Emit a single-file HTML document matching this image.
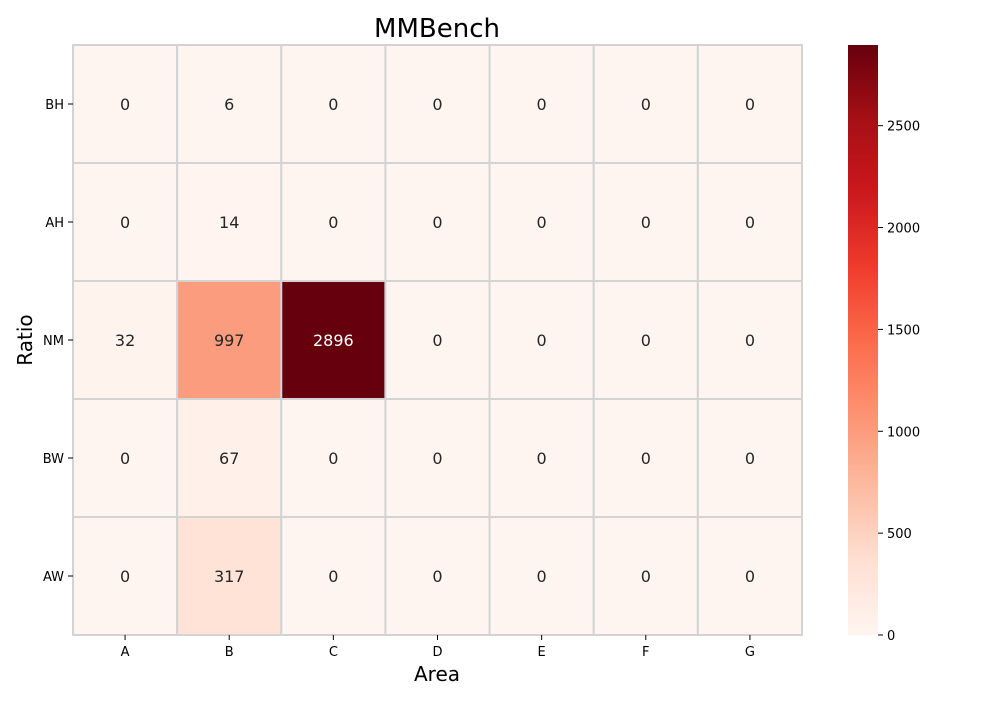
<!DOCTYPE html>
<html><head><meta charset="utf-8"><style>
body{margin:0;background:#fff;font-family:"DejaVu Sans","Liberation Sans",sans-serif}
svg text{font-family:"DejaVu Sans","Liberation Sans",sans-serif}
</style></head><body>
<svg id="chart" width="1000" height="700" viewBox="0 0 1000 700">
<defs><linearGradient id="cbg" x1="0" y1="1" x2="0" y2="0">
<stop offset="0" stop-color="#fff5f0"/><stop offset="0.125" stop-color="#fee0d2"/><stop offset="0.25" stop-color="#fcbba1"/><stop offset="0.375" stop-color="#fc9272"/><stop offset="0.5" stop-color="#fb6a4a"/><stop offset="0.625" stop-color="#ef3b2c"/><stop offset="0.75" stop-color="#cb181d"/><stop offset="0.875" stop-color="#a50f15"/><stop offset="1" stop-color="#67000d"/>
</linearGradient></defs>
<text x="437" y="37" text-anchor="middle" font-size="26" fill="#000">MMBench</text>
<text x="437" y="681" text-anchor="middle" font-size="20" fill="#000">Area</text>
<text x="32" y="340" text-anchor="middle" font-size="20" fill="#000" transform="rotate(-90 32 340)">Ratio</text>
<g id="cells"></g>
<rect x="848" y="45" width="30" height="590" fill="url(#cbg)"/>
<g id="cbticks"></g>
</svg>
<script>
const xCats=["A","B","C","D","E","F","G"];
const yCats=["BH","AH","NM","BW","AW"];
const row0=[0,6,0,0,0,0,0];
const row1=[0,14,0,0,0,0,0];
const row2=[32,997,2896,0,0,0,0];
const row3=[0,67,0,0,0,0,0];
const row4=[0,317,0,0,0,0,0];
const values=[row0,row1,row2,row3,row4];
const cbTicks=[0,500,1000,1500,2000,2500];
const vmax=2896;
const L=73,R=802,T=45,B=635;
const cw=(R-L)/xCats.length, ch=(B-T)/yCats.length;
const xPos=i=>L+i*cw, yPos=j=>T+j*ch;
const stops=[[255,245,240],[254,224,210],[252,187,161],[252,146,114],[251,106,74],[239,59,44],[203,24,29],[165,15,21],[103,0,13]];
function cmap(v){let t=Math.max(0,Math.min(1,v/vmax))*8;let i=Math.min(7,Math.floor(t)),f=t-i;
const a=stops[i],b=stops[i+1];const c=a.map((x,k)=>Math.round(x+(b[k]-x)*f));return c;}
const NS="http://www.w3.org/2000/svg";
const g=document.getElementById('cells');
function mk(tag,at,parent){const e=document.createElementNS(NS,tag);for(const k in at)e.setAttribute(k,at[k]);parent.appendChild(e);return e;}
values.forEach((row,j)=>row.forEach((v,i)=>{
 const c=cmap(v);
 const r=mk('rect',{x:xPos(i),y:yPos(j),width:cw,height:ch,fill:`rgb(${c})`,stroke:'#d3d3d3','stroke-width':2},g);
 
 
 const lum=(0.299*c[0]+0.587*c[1]+0.114*c[2])/255;
 const t=mk('text',{x:xPos(i)+cw/2,y:yPos(j)+ch/2+6,'text-anchor':'middle','font-size':16,fill:lum<0.45?'#fff':'#262626'},g);
 t.textContent=v;
 
 
}));
xCats.forEach((c,i)=>{
 const x=xPos(i)+cw/2;
 mk('line',{x1:x,x2:x,y1:B,y2:B+5,stroke:'#000'},g);
 const t=mk('text',{x:x,y:B+21,'text-anchor':'middle','font-size':13,fill:'#000'},g);
 t.textContent=c;
 
 
});
yCats.forEach((c,j)=>{
 const y=yPos(j)+ch/2;
 mk('line',{x1:L-5,x2:L,y1:y,y2:y,stroke:'#000'},g);
 const t=mk('text',{x:L-9,y:y+5,'text-anchor':'end','font-size':13,fill:'#000'},g);
 t.textContent=c;
 
 
});
const cg=document.getElementById('cbticks');
cbTicks.forEach(v=>{
 const y=B-(v/vmax)*(B-T);
 mk('line',{x1:878,x2:883,y1:y,y2:y,stroke:'#000'},cg);
 const t=mk('text',{x:887,y:y+5,'font-size':13,fill:'#000'},cg);
 t.textContent=v;
 
 
});
</script>
</body></html>
